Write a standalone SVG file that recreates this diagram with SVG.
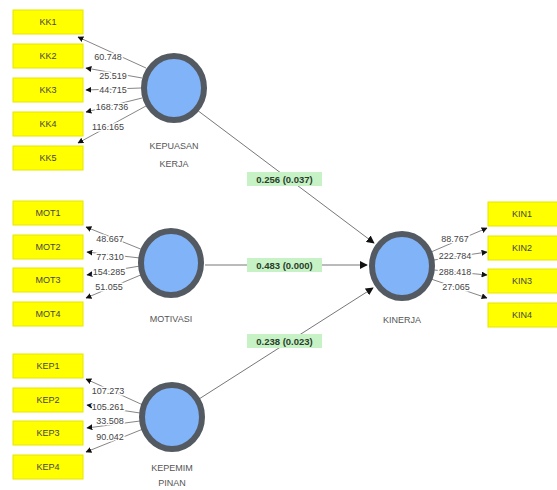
<svg xmlns="http://www.w3.org/2000/svg" width="557" height="490" viewBox="0 0 557 490">
<defs>
<marker id="ah" viewBox="0 0 10 10" refX="9" refY="5" markerWidth="6" markerHeight="6" orient="auto" markerUnits="userSpaceOnUse">
<path d="M0,0 L10,5 L0,10 z" fill="#111"/>
</marker>
<marker id="ahb" viewBox="0 0 10 10" refX="9" refY="5" markerWidth="8" markerHeight="8" orient="auto" markerUnits="userSpaceOnUse">
<path d="M0,0 L10,5 L0,10 z" fill="#111"/>
</marker>
</defs>
<style>
.box{fill:#ffff00;stroke:#e6e600;stroke-width:1}
.bt{font-family:"Liberation Sans",Arial,sans-serif;font-size:9px;fill:#444;text-anchor:middle}
.lv{fill:#80b3f8;stroke:#545a62;stroke-width:6}
.lt{font-family:"Liberation Sans",Arial,sans-serif;font-size:9px;fill:#555;text-anchor:middle}
.ld{stroke:#666;stroke-width:0.8;fill:none;marker-end:url(#ah)}
.st{stroke:#777;stroke-width:1;fill:none;marker-end:url(#ahb)}
.ll{font-family:"Liberation Sans",Arial,sans-serif;font-size:9px;fill:#444;text-anchor:middle;stroke:#fff;stroke-width:3;paint-order:stroke;stroke-linejoin:round}
.gb{fill:#c6f2c6}
.gt{font-family:"Liberation Sans",Arial,sans-serif;font-size:9.5px;font-weight:bold;fill:#2a3d2a;text-anchor:middle}
</style>
<rect width="557" height="490" fill="#fff"/>

<g id="connectors">
<path class="ld" d="M146,68 L78,37"/>
<path class="ld" d="M142,78 L86,68"/>
<path class="ld" d="M141,88 L86,90"/>
<path class="ld" d="M142,98 L86,112"/>
<path class="ld" d="M146,106 L78,143"/>
<path class="ld" d="M143,250 L86,227"/>
<path class="ld" d="M140,258 L87,252"/>
<path class="ld" d="M140,266 L87,275"/>
<path class="ld" d="M143,274 L86,298"/>
<path class="ld" d="M143,405 L86,379"/>
<path class="ld" d="M140,413 L87,405"/>
<path class="ld" d="M140,421 L87,428"/>
<path class="ld" d="M143,429 L86,452"/>
<path class="ld" d="M431,252 L487,228"/>
<path class="ld" d="M434,260 L487,252"/>
<path class="ld" d="M434,270 L487,275"/>
<path class="ld" d="M431,279 L487,298"/>
<path class="st" d="M197,110 L374,243"/>
<path class="st" d="M205,265 L367,265"/>
<path class="st" d="M199,399 L373,288"/>
<text class="ll" x="108" y="60">60.748</text>
<text class="ll" x="113" y="79">25.519</text>
<text class="ll" x="113" y="93">44.715</text>
<text class="ll" x="112" y="110">168.736</text>
<text class="ll" x="108" y="130">116.165</text>
<text class="ll" x="110" y="242">48.667</text>
<text class="ll" x="110" y="260">77.310</text>
<text class="ll" x="109" y="275">154.285</text>
<text class="ll" x="109" y="290">51.055</text>
<text class="ll" x="108" y="394">107.273</text>
<text class="ll" x="108" y="410">105.261</text>
<text class="ll" x="110" y="424">33.508</text>
<text class="ll" x="110" y="440">90.042</text>
<text class="ll" x="455" y="242">88.767</text>
<text class="ll" x="455" y="259">222.784</text>
<text class="ll" x="455" y="275">288.418</text>
<text class="ll" x="456" y="290">27.065</text>
<rect class="gb" x="247" y="172" width="75" height="14"/>
<text class="gt" x="284.5" y="182.5">0.256 (0.037)</text>
<rect class="gb" x="247" y="258" width="75" height="14"/>
<text class="gt" x="284.5" y="268.5">0.483 (0.000)</text>
<rect class="gb" x="247" y="334" width="75" height="14"/>
<text class="gt" x="284.5" y="344.5">0.238 (0.023)</text>
</g>

<g id="KK1"><rect class="box" x="13" y="10" width="70" height="24"/><text class="bt" x="48" y="25">KK1</text></g>
<g id="KK2"><rect class="box" x="13" y="44" width="70" height="24"/><text class="bt" x="48" y="59">KK2</text></g>
<g id="KK3"><rect class="box" x="13" y="78" width="70" height="24"/><text class="bt" x="48" y="93">KK3</text></g>
<g id="KK4"><rect class="box" x="13" y="112" width="70" height="24"/><text class="bt" x="48" y="127">KK4</text></g>
<g id="KK5"><rect class="box" x="13" y="146" width="70" height="24"/><text class="bt" x="48" y="161">KK5</text></g>

<g id="MOT1"><rect class="box" x="13" y="201" width="70" height="24"/><text class="bt" x="48" y="216">MOT1</text></g>
<g id="MOT2"><rect class="box" x="13" y="235" width="70" height="24"/><text class="bt" x="48" y="250">MOT2</text></g>
<g id="MOT3"><rect class="box" x="13" y="268" width="70" height="24"/><text class="bt" x="48" y="283">MOT3</text></g>
<g id="MOT4"><rect class="box" x="13" y="302" width="70" height="24"/><text class="bt" x="48" y="317">MOT4</text></g>

<g id="KEP1"><rect class="box" x="13" y="354" width="70" height="24"/><text class="bt" x="48" y="369">KEP1</text></g>
<g id="KEP2"><rect class="box" x="13" y="388" width="70" height="24"/><text class="bt" x="48" y="403">KEP2</text></g>
<g id="KEP3"><rect class="box" x="13" y="421" width="70" height="24"/><text class="bt" x="48" y="436">KEP3</text></g>
<g id="KEP4"><rect class="box" x="13" y="455" width="70" height="24"/><text class="bt" x="48" y="470">KEP4</text></g>

<g id="KIN1"><rect class="box" x="488" y="202" width="72" height="24"/><text class="bt" x="522" y="217">KIN1</text></g>
<g id="KIN2"><rect class="box" x="488" y="236" width="72" height="24"/><text class="bt" x="522" y="251">KIN2</text></g>
<g id="KIN3"><rect class="box" x="488" y="269" width="72" height="24"/><text class="bt" x="522" y="284">KIN3</text></g>
<g id="KIN4"><rect class="box" x="488" y="303" width="72" height="24"/><text class="bt" x="522" y="318">KIN4</text></g>

<g id="KEPUASAN_KERJA"><ellipse class="lv" cx="174" cy="88" rx="30" ry="32"/><text class="lt" x="174" y="149">KEPUASAN</text><text class="lt" x="174" y="167">KERJA</text></g>
<g id="MOTIVASI"><ellipse class="lv" cx="171" cy="263" rx="30" ry="32"/><text class="lt" x="171" y="322">MOTIVASI</text></g>
<g id="KEPEMIMPINAN"><ellipse class="lv" cx="172" cy="417" rx="30" ry="32"/><text class="lt" x="172" y="471">KEPEMIM</text><text class="lt" x="172" y="486">PINAN</text></g>
<g id="KINERJA"><ellipse class="lv" cx="402" cy="266" rx="30" ry="32"/><text class="lt" x="402" y="323">KINERJA</text></g>
</svg>
